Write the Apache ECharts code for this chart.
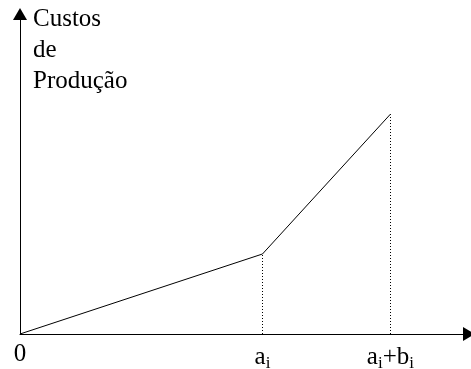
<!DOCTYPE html>
<html>
<head>
<meta charset="utf-8">
<script src="https://cdn.jsdelivr.net/npm/echarts@6/dist/echarts.min.js"></script>
<style>
  html, body { margin: 0; padding: 0; background: #fff; }
  #chart { width: 471px; height: 369px; }
</style>
</head>
<body>
<div id="chart"></div>
<script>
// Piecewise linear production cost curve (abstract units)
const costX = [0, 5.4, 8.25];
const costY = [0, 2.5, 6.87];

// Tick positions on the quantity axis and their labels (main text / subscript pairs)
const xTicks = [0, 5.4, 8.25];
const xTickParts = [['0'], ['a', 'i'], ['a', 'i', '+b', 'i']];

const yTitle = 'Custos\nde\nProdução';

const serif = "'Liberation Serif', 'Times New Roman', serif";

function tickLabel(v) {
  const idx = xTicks.findIndex(t => Math.abs(t - v) < 1e-6);
  if (idx < 0) return '';
  return xTickParts[idx].map((p, i) => (i % 2 === 0 ? '{m|' + p + '}' : '{s|' + p + '}')).join('');
}

const chart = echarts.init(document.getElementById('chart'), null, { renderer: 'canvas' });

chart.setOption({
  backgroundColor: '#fff',
  animation: false,
  title: {
    text: yTitle,
    left: 33,
    top: 4,
    padding: 0,
    textStyle: { fontFamily: serif, fontSize: 25, fontWeight: 'normal', color: '#000', lineHeight: 31 }
  },
  grid: { left: 20, right: 2, top: 14, bottom: 35, containLabel: false, outerBoundsMode: 'none' },
  xAxis: {
    type: 'value',
    min: 0,
    max: 10,
    axisLine: { lineStyle: { color: '#000', width: 1 }, symbol: ['none', 'triangle'], symbolSize: [14, 12] },
    axisTick: { show: false },
    splitLine: { show: false },
    axisLabel: {
      customValues: xTicks,
      formatter: tickLabel,
      margin: 8,
      showMinLabel: true,
      showMaxLabel: true,
      rich: {
        m: { fontFamily: serif, fontSize: 25, color: '#000' },
        s: { fontFamily: serif, fontSize: 17, color: '#000', padding: [13, 0, 0, 0] }
      }
    }
  },
  yAxis: {
    type: 'value',
    min: 0,
    max: 10,
    axisLine: { show: true, lineStyle: { color: '#000', width: 1 }, symbol: ['none', 'triangle'], symbolSize: [14, 12] },
    axisTick: { show: false },
    splitLine: { show: false },
    axisLabel: { show: false }
  },
  series: [
    {
      type: 'line',
      data: costX.map((x, i) => [x, costY[i]]),
      symbol: 'none',
      lineStyle: { color: '#000', width: 1 },
      markLine: {
        silent: true,
        symbol: 'none',
        label: { show: false },
        lineStyle: { color: '#000', width: 1, type: [1, 2] },
        data: costX.slice(1).map((x, i) => [{ coord: [x, 0] }, { coord: [x, costY[i + 1]] }])
      }
    }
  ]
});
</script>
</body>
</html>
